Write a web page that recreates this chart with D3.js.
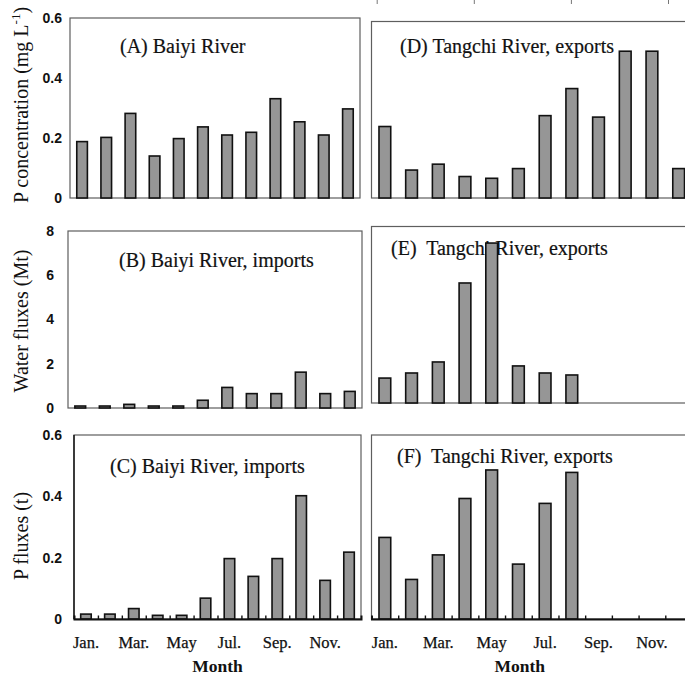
<!DOCTYPE html>
<html>
<head>
<meta charset="utf-8">
<script src="https://cdn.jsdelivr.net/npm/d3@7"></script>
<style>
  body { margin: 0; background: #fff; }
  svg { display: block; }
  .ytick text { font-family: "Liberation Sans", Arial, sans-serif; font-weight: bold; font-size: 14px; fill: #111; }
  .xlab text { font-family: "Liberation Serif", "Times New Roman", serif; font-size: 16.5px; fill: #111; stroke: #111; stroke-width: 0.25px; }
  .panel_title { font-family: "Liberation Serif", "Times New Roman", serif; font-size: 20px; fill: #111; stroke: #111; stroke-width: 0.2px; }
  .axis_title { font-family: "Liberation Serif", "Times New Roman", serif; font-size: 20px; fill: #111; }
  .month_title { font-family: "Liberation Serif", "Times New Roman", serif; font-size: 17.5px; font-weight: bold; fill: #111; }
</style>
</head>
<body>
<svg id="chart" width="685" height="678" xmlns="http://www.w3.org/2000/svg"></svg>
<script>
// months on the x axis, only every other one gets a label
const months = ['Jan.', 'Feb.', 'Mar.', 'Apr.', 'May', 'Jun.', 'Jul.', 'Aug.', 'Sep.', 'Oct.', 'Nov.', 'Dec.']
const monthLabels = ['Jan.', 'Mar.', 'May', 'Jul.', 'Sep.', 'Nov.']

// values
const baiyiConc = [0.188, 0.202, 0.282, 0.14, 0.198, 0.237, 0.21, 0.219, 0.331, 0.254, 0.21, 0.297]
const baiyiWater = [0.09, 0.09, 0.165, 0.09, 0.09, 0.35, 0.93, 0.65, 0.65, 1.62, 0.65, 0.75]
const baiyiPFlux = [0.016, 0.016, 0.034, 0.012, 0.012, 0.068, 0.197, 0.139, 0.197, 0.402, 0.126, 0.218]
const tangchiConc = [0.243, 0.095, 0.115, 0.073, 0.067, 0.1, 0.28, 0.372, 0.275, 0.499, 0.499, 0.1]
const tangchiWater = [1.13, 1.36, 1.86, 5.44, 7.25, 1.68, 1.36, 1.27]
const tangchiPFlux = [0.266, 0.129, 0.209, 0.393, 0.486, 0.179, 0.377, 0.478]

const concTicks = [0, 0.2, 0.4, 0.6]
const waterTicks = [0, 2, 4, 6, 8]

const svg = d3.select('#chart')

// layout of the six panels
const panels = [
    { id: 'A', values: baiyiConc, max: 0.6, ticks: concTicks, left: 70, right: 360, top: 18, bottom: 198, labelPad: 8,
      title: '(A) Baiyi River', tx: 120, ty: 53 },
    { id: 'B', values: baiyiWater, max: 8, ticks: waterTicks, left: 68, right: 362, top: 231, bottom: 408, labelPad: 14,
      title: '(B) Baiyi River, imports', tx: 119, ty: 267 },
    { id: 'C', values: baiyiPFlux, max: 0.6, ticks: concTicks, left: 74, right: 361, top: 435, bottom: 619, labelPad: 12,
      title: '(C) Baiyi River, imports', tx: 110, ty: 473, monthAxis: true },
    { id: 'D', values: tangchiConc, max: 0.6, left: 371.5, right: 692, top: 21.5, bottom: 198,
      title: '(D) Tangchi River, exports', tx: 400, ty: 53 },
    { id: 'E', values: tangchiWater, max: 8, left: 371.5, right: 692, top: 226.5, bottom: 403,
      title: '(E)\u00a0 Tangchi River, exports', tx: 391, ty: 255 },
    { id: 'F', values: tangchiPFlux, max: 0.6, left: 371.5, right: 692, top: 435, bottom: 619,
      title: '(F)\u00a0 Tangchi River, exports', tx: 397, ty: 463, monthAxis: true }
]

const tickFormat = d => d === 0 ? '0' : (Number.isInteger(d) ? d : d3.format('.1f')(d))

for (const p of panels) {
    const g = svg.append('g').attr('id', `panel_${p.id}`)
    const x = d3.scaleBand().domain(months).range([p.left, p.right]).paddingInner(0.56).paddingOuter(0.28)
    const y = d3.scaleLinear().domain([0, p.max]).range([p.bottom, p.top])

    // frame
    g.append('rect')
        .attr('x', p.left).attr('y', p.top)
        .attr('width', p.right - p.left).attr('height', p.bottom - p.top)
        .attr('fill', 'none').attr('stroke', '#5e5e5e').attr('stroke-width', 1.2)

    g.append('text').attr('class', 'panel_title')
        .attr('x', p.tx).attr('y', p.ty).text(p.title)

    g.selectAll('rect.bar').data(p.values.map((v, i) => ({ m: months[i], v })))
        .enter().append('rect').attr('class', 'bar')
        .attr('x', d => x(d.m))
        .attr('y', d => y(d.v))
        .attr('width', x.bandwidth())
        .attr('height', d => y(0) - y(d.v))
        .attr('fill', '#969696').attr('stroke', '#111').attr('stroke-width', 1.6)

    if (p.ticks) {
        g.append('g').attr('class', 'ytick')
            .attr('transform', `translate(${p.left},0)`)
            .call(d3.axisLeft(y).tickValues(p.ticks).tickSize(0).tickPadding(p.labelPad).tickFormat(tickFormat))
            .call(a => a.select('.domain').remove())
    }

    if (p.monthAxis) {
        // inward ticks between months on a dark baseline
        const edges = d3.scaleLinear().domain([0, months.length]).range([p.left, p.right])
        g.append('g')
            .attr('transform', `translate(0,${p.bottom})`)
            .call(d3.axisBottom(edges).tickValues(d3.range(1, months.length)).tickSize(-3.5).tickFormat(''))
            .call(a => a.select('.domain').attr('stroke', '#111').attr('stroke-width', 2))
            .call(a => a.selectAll('.tick line').attr('stroke', '#111').attr('stroke-width', 1.4))
        if (p.id === 'C') {
            g.append('line').attr('x1', p.left).attr('x2', p.left).attr('y1', p.top).attr('y2', p.bottom)
                .attr('stroke', '#111').attr('stroke-width', 1.4)
        }
        g.append('g').attr('class', 'xlab')
            .attr('transform', `translate(0,${p.bottom})`)
            .call(d3.axisBottom(x).tickValues(monthLabels).tickSize(0).tickPadding(17))
            .call(a => a.select('.domain').remove())
        g.append('text').attr('class', 'month_title')
            .attr('x', (p.left + p.right) / 2 - (p.id === 'F' ? 12 : 0)).attr('y', 672)
            .attr('text-anchor', 'middle').text('Month')
    }
}

// y axis titles
const yTitles = [
    { text: 'P concentration (mg L', sup: '-1', tail: ')', cy: 105 },
    { text: 'Water fluxes (Mt)', cy: 321 },
    { text: 'P fluxes (t)', cy: 536 }
]
for (const t of yTitles) {
    const txt = svg.append('text').attr('class', 'axis_title')
        .attr('transform', `translate(28,${t.cy}) rotate(-90)`)
        .attr('text-anchor', 'middle')
    txt.append('tspan').text(t.text)
    if (t.sup) {
        txt.append('tspan').attr('dy', -8).attr('font-size', 13).text(t.sup)
        txt.append('tspan').attr('dy', 8).text(t.tail)
    }
}

// stubs of the cut-off figure above panel D
const stub = d3.scaleLinear().domain([0, 3]).range([376.7, 668])
svg.append('g')
    .attr('transform', 'translate(0,0)')
    .call(d3.axisBottom(stub).tickValues([0, 1, 2, 3]).tickSize(4).tickFormat(''))
    .call(a => a.select('.domain').remove())
    .call(a => a.selectAll('.tick line').attr('stroke', '#777'))
</script>
</body>
</html>
